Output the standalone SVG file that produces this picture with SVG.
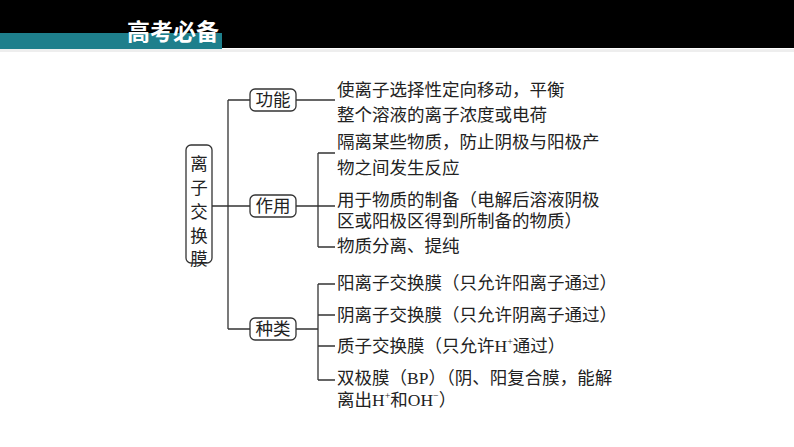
<svg xmlns="http://www.w3.org/2000/svg" width="794" height="447" viewBox="0 0 794 447">
<style>
.t{font-family:"Liberation Serif","Noto Sans CJK SC",serif;font-size:17.5px;fill:#222}
.b{fill:#fff;stroke:#333;stroke-width:1.3}
.l{stroke:#333;stroke-width:1.3;fill:none}
</style>
<rect width="794" height="447" fill="#fff"/>
<rect x="0" y="0" width="794" height="48" fill="#000"/>
<rect x="0" y="33" width="222" height="16" fill="#1e7f8c"/>
<rect x="0" y="49" width="794" height="3" fill="#eee"/>
<text x="127" y="40" font-family="Noto Sans CJK SC,sans-serif" font-weight="bold" font-size="23" fill="#fff">高考必备</text>
<g id="connectors" class="l">
<path d="M212 206H228M228 100V329M228 100H250M228 206H250M228 329H250"/>
<path d="M296 100H335"/>
<path d="M296 206H335M318 153V247M318 153H335M318 247H335"/>
<path d="M296 329H318M318 284V380M318 284H335M318 315H335M318 346H335M318 380H335"/>
</g>
<g id="root"><rect class="b" x="186" y="145" width="26" height="118" rx="5"/>
<text class="t" x="199" text-anchor="middle"><tspan y="170">离</tspan><tspan x="199" y="194">子</tspan><tspan x="199" y="218">交</tspan><tspan x="199" y="242">换</tspan><tspan x="199" y="265">膜</tspan></text></g>
<g id="gn"><rect class="b" x="250" y="89" width="46" height="22" rx="5"/><text class="t" x="273" y="106" text-anchor="middle">功能</text></g>
<g id="zy"><rect class="b" x="250" y="195" width="46" height="22" rx="5"/><text class="t" x="273" y="212" text-anchor="middle">作用</text></g>
<g id="zl"><rect class="b" x="250" y="318" width="46" height="22" rx="5"/><text class="t" x="273" y="335" text-anchor="middle">种类</text></g>
<g id="texts" class="t">
<text x="337" y="96">使离子选择性定向移动，平衡</text>
<text x="337" y="121">整个溶液的离子浓度或电荷</text>
<text x="337" y="148">隔离某些物质，防止阴极与阳极产</text>
<text x="337" y="174">物之间发生反应</text>
<text x="337" y="206">用于物质的制备（电解后溶液阴极</text>
<text x="337" y="227">区或阳极区得到所制备的物质）</text>
<text x="337" y="252">物质分离、提纯</text>
<text x="337" y="289">阳离子交换膜（只允许阳离子通过）</text>
<text x="337" y="321">阴离子交换膜（只允许阴离子通过）</text>
<text x="337" y="352">质子交换膜（只允许H<tspan font-size="10" dy="-7">+</tspan><tspan dy="7">通过）</tspan></text>
<text x="337" y="384">双极膜（BP）（阴、阳复合膜，能解</text>
<text x="337" y="406">离出H<tspan font-size="10" dy="-7">+</tspan><tspan dy="7">和OH</tspan><tspan font-size="10" dy="-7">−</tspan><tspan dy="7">）</tspan></text>
</g>
</svg>
